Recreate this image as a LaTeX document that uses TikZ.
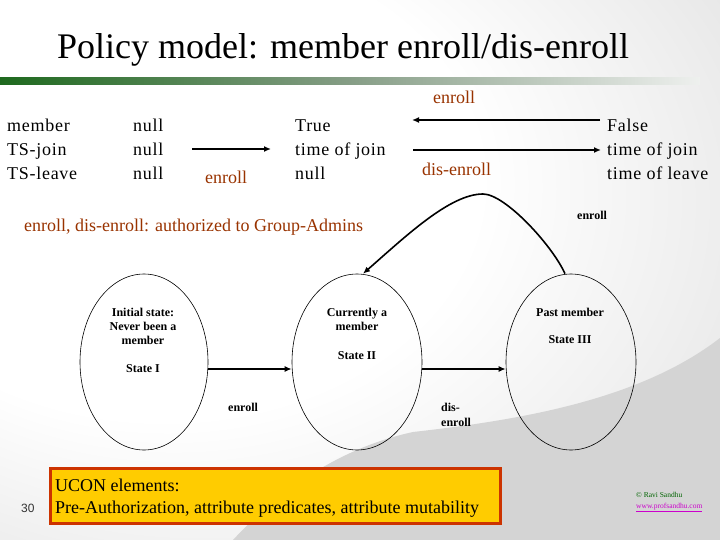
\documentclass[tikz,border=0pt]{standalone}
\usepackage{fontspec}
\setmainfont{Liberation Serif}
\newfontfamily\numfont{Liberation Sans}
\newfontfamily\tabfont[LetterSpace=4]{Liberation Serif}
\usetikzlibrary{shapes.geometric,arrows.meta}
\definecolor{brownlbl}{RGB}{153,51,0}
\definecolor{barGreen}{RGB}{30,105,30}
\definecolor{barPale}{RGB}{238,240,238}
\definecolor{boxFill}{RGB}{255,204,0}
\definecolor{boxLine}{RGB}{204,51,0}
\definecolor{swoosh}{RGB}{212,212,212}
\definecolor{cpGreen}{RGB}{0,100,0}
\definecolor{cpMag}{RGB}{204,0,204}
\pgfdeclareradialshading{bgshade}{\pgfpoint{-20bp}{12bp}}{color(0bp)=(white); color(22bp)=(white); color(70bp)=(black!25)}
\begin{document}
\begin{tikzpicture}[x=1pt,y=-1pt,
  txt/.style={anchor=base west,inner sep=0pt,font=\fontsize{18}{22}\selectfont},
  tab/.style={anchor=base west,inner sep=0pt,font=\tabfont\fontsize{18}{22}\selectfont},
  lbl/.style={txt,text=brownlbl},
  small/.style={anchor=base,inner sep=0pt,font=\fontsize{12}{14}\selectfont\bfseries},
  smallw/.style={anchor=base west,inner sep=0pt,font=\fontsize{12}{14}\selectfont\bfseries},
  stateell/.style={draw,ellipse,line width=0.6pt,inner sep=0pt},
  arr/.style={line width=1.6pt,-{Latex[length=7pt,width=6pt]}}]
\useasboundingbox (0,0) rectangle (720,540);
% background
\shade[shading=bgshade] (0,0) rectangle (720,540);
\fill[swoosh] (720,338) .. controls (640,400) and (520,420) .. (413,432)
  .. controls (330,450) and (270,500) .. (233,540) -- (720,540) -- cycle;
% title and bar
\node[anchor=base west,inner sep=0pt,font=\fontsize{36}{40}\selectfont] (title) at (57,59) {Policy model: member enroll/dis-enroll};
\shade[left color=barGreen,right color=barPale,middle color=black!25!barPale!70!barGreen] (0,78) rectangle (700,85);
% attribute table
\node[tab] (a1) at (7,132) {member};
\node[tab] (a2) at (7,156) {TS-join};
\node[tab] (a3) at (7,180) {TS-leave};
\node[tab] (n1) at (133,132) {null};
\node[tab] (n2) at (133,156) {null};
\node[tab] (n3) at (133,180) {null};
\node[tab] (t1) at (295,132) {True};
\node[tab] (t2) at (295,156) {time of join};
\node[tab] (t3) at (295,180) {null};
\node[tab] (f1) at (607,132) {False};
\node[tab] (f2) at (607,156) {time of join};
\node[tab] (f3) at (607,180) {time of leave};
\coordinate (p1) at (192,149);
\coordinate (p2) at (271,149);
\draw[arr] (p1) -- (p2);
\node[lbl] (lenroll1) at (205,184) {enroll};
\coordinate (q1) at (600,120);
\coordinate (q2) at (412,120);
\draw[arr] (q1) -- (q2);
\coordinate (r1) at (413,150);
\coordinate (r2) at (601,150);
\draw[arr] (r1) -- (r2);
\node[lbl] (lenroll2) at (433,104) {enroll};
\node[lbl] (ldis) at (422,176) {dis-enroll};
\node[lbl] (lauth) at (24,231) {enroll, dis-enroll: authorized to Group-Admins};
% states
\node[stateell,minimum width=128pt,minimum height=176pt] (s1) at (144,362) {};
\node[stateell,minimum width=130pt,minimum height=176pt] (s2) at (357,362) {};
\node[stateell,minimum width=130pt,minimum height=176pt] (s3) at (571,362) {};
\node[small] (s1a) at (143,316) {Initial state:};
\node[small] (s1b) at (143,330) {Never been a};
\node[small] (s1c) at (143,344) {member};
\node[small] (s1d) at (143,372) {State I};
\node[small] (s2a) at (357,316) {Currently a};
\node[small] (s2b) at (357,330) {member};
\node[small] (s2c) at (357,359) {State II};
\node[small] (s3a) at (570,316) {Past member};
\node[small] (s3b) at (570,343) {State III};
\draw[arr] ([yshift=-7pt]s1.east) -- ([yshift=-7pt]s2.west);
\draw[arr] ([yshift=-7pt]s2.east) -- ([yshift=-7pt]s3.west);
\node[smallw] (e1) at (228,411) {enroll};
\node[smallw] (e2a) at (441,411) {dis-};
\node[smallw] (e2b) at (441,426) {enroll};
\coordinate (peak) at (483,194);
\draw[arr] ([xshift=-6pt]s3.north) .. controls (552,245) and (505,194) .. (peak)
  .. controls (450,194) and (406,236) .. ([xshift=6pt]s2.north);
\node[smallw] (e3) at (577,219) {enroll};
% UCON box
\node[draw=boxLine,line width=3.5pt,fill=boxFill,minimum width=450pt,minimum height=55pt,anchor=north west,inner sep=0pt] (ucon) at (48.5,466.5) {};
\node[txt] (u1) at (55,491) {UCON elements:};
\node[txt] (u2) at (55,513) {Pre-Authorization, attribute predicates, attribute mutability};
\node[anchor=base west,inner sep=0pt,font=\numfont\fontsize{12}{14}\selectfont,text=black!80] (pg) at (21,512) {30};
\node[anchor=base west,inner sep=0pt,font=\fontsize{7.5}{9}\selectfont,text=cpGreen] (cp1) at (636,497) {\textcopyright{} Ravi Sandhu};
\node[anchor=base west,inner sep=0pt,font=\fontsize{7.5}{9}\selectfont,text=cpMag] (cp2) at (636,508) {\underline{www.profsandhu.com}};
\end{tikzpicture}
\end{document}
